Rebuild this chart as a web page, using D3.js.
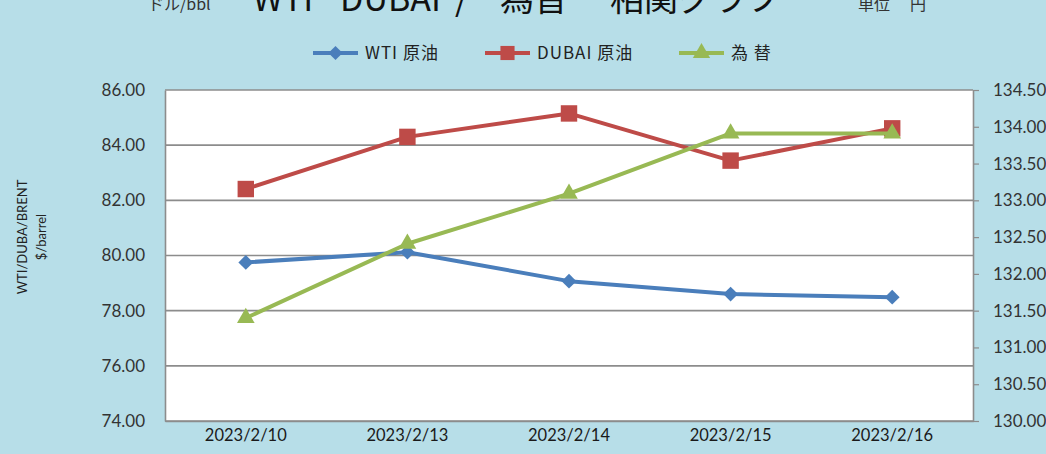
<!DOCTYPE html>
<html><head><meta charset="utf-8">
<script src="https://cdn.jsdelivr.net/npm/d3@7"></script>
<style>
html,body{margin:0;padding:0;background:#b7dee8;}
svg{display:block;}
</style></head>
<body><svg id="c" width="1046" height="454"></svg>
<script>
const categories = ["2023/2/10","2023/2/13","2023/2/14","2023/2/15","2023/2/16"];
const wti = [79.75, 80.12, 79.07, 78.60, 78.49];
const dubai = [82.41, 84.30, 85.15, 83.44, 84.61];
const fx = [131.40, 132.41, 133.09, 133.91, 133.91];
const leftTicks = [74,76,78,80,82,84,86];
const rightTicks = [130,130.5,131,131.5,132,132.5,133,133.5,134,134.5];
const seriesNames = ["WTI 原油","DUBAI 原油","為 替"];
const titleParts = ["WTI","DUBAI","/","為替","相関グラフ"];
const colors = ["#4a7ebb","#be4b48","#98b954"];

const svg = d3.select("#c");
const W = 1046, H = 454;
const plot = {l:165, r:973, t:90, b:421};
const jpFont = "'Noto Sans CJK JP', 'Noto Sans', sans-serif";
const numFont = "Lato, 'Noto Sans', sans-serif";

svg.append("rect").attr("width",W).attr("height",H).attr("fill","#b7dee8");

const x = d3.scaleBand().domain(categories).range([plot.l, plot.r]);
const yL = d3.scaleLinear().domain([74,86]).range([plot.b, plot.t]);
const yR = d3.scaleLinear().domain([130,134.5]).range([plot.b, plot.t]);

svg.append("rect").attr("x",plot.l).attr("y",plot.t).attr("width",plot.r-plot.l).attr("height",plot.b-plot.t).attr("fill","#fff");

// gridlines
svg.append("g").selectAll("line").data(leftTicks).join("line")
  .attr("x1",plot.l).attr("x2",plot.r)
  .attr("y1",d=>yL(d)).attr("y2",d=>yL(d))
  .attr("stroke","#8c8c8c").attr("stroke-width",1.6);

// left axis
const gL = svg.append("g").attr("transform",`translate(${plot.l},0)`)
  .call(d3.axisLeft(yL).tickValues(leftTicks).tickFormat(d3.format(".2f")).tickSize(0).tickPadding(20));
gL.select(".domain").attr("stroke","#8c8c8c").attr("stroke-width",1.6);
gL.selectAll("text").attr("font-family",numFont).attr("font-size",17).attr("fill","#333");

// right axis
const gR = svg.append("g").attr("transform",`translate(${plot.r},0)`)
  .call(d3.axisRight(yR).tickValues(rightTicks).tickFormat(d3.format(".2f")).tickSizeOuter(0).tickSizeInner(6).tickPadding(14));
gR.select(".domain").attr("stroke","#8c8c8c").attr("stroke-width",1.6);
gR.selectAll("line").attr("stroke","#8c8c8c").attr("stroke-width",1.2);
gR.selectAll("text").attr("font-family",numFont).attr("font-size",17).attr("fill","#333");

// bottom axis
const gB = svg.append("g").attr("transform",`translate(0,${plot.b})`)
  .call(d3.axisBottom(x).tickSize(0).tickPadding(8));
gB.select(".domain").attr("stroke","#8c8c8c").attr("stroke-width",1.6);
gB.selectAll("text").attr("font-family",numFont).attr("font-size",16.5).attr("fill","#1a1a1a");

const cx = d => x(d) + x.bandwidth()/2;
const diamond = {type:d3.symbolSquare, size:110, rot:45};
const square = {type:d3.symbolSquare, size:270, rot:0};
const triangle = {type:d3.symbolTriangle, size:135, rot:0};

function drawSeries(vals, scale, color, shape){
  const data = categories.map((c,i)=>({c, v:vals[i]}));
  svg.append("path").datum(data)
    .attr("d", d3.line().x(d=>cx(d.c)).y(d=>scale(d.v)))
    .attr("fill","none").attr("stroke",color).attr("stroke-width",4).attr("stroke-linejoin","round");
  svg.append("g").selectAll("path").data(data).join("path")
    .attr("transform",d=>`translate(${cx(d.c)},${scale(d.v)}) rotate(${shape.rot})`)
    .attr("d", d3.symbol().type(shape.type).size(shape.size))
    .attr("fill",color);
}
drawSeries(wti, yL, colors[0], diamond);
drawSeries(dubai, yL, colors[1], square);
drawSeries(fx, yR, colors[2], triangle);

// legend
const legendX = [313, 485, 679];
const shapes = [{type:d3.symbolSquare,size:100,rot:45},{type:d3.symbolSquare,size:200,rot:0},{type:d3.symbolTriangle,size:130,rot:0}];
const lg = svg.append("g");
seriesNames.forEach((n,i)=>{
  const g = lg.append("g").attr("transform",`translate(${legendX[i]},53)`);
  g.append("line").attr("x1",0).attr("x2",45).attr("stroke",colors[i]).attr("stroke-width",4);
  g.append("path").attr("transform",`translate(22.5,0) rotate(${shapes[i].rot})`).attr("d",d3.symbol().type(shapes[i].type).size(shapes[i].size)).attr("fill",colors[i]);
  g.append("text").attr("x",52).attr("y",6).text(n).attr("font-family",jpFont).attr("font-size",17).attr("letter-spacing",1).attr("fill","#222");
});

// title & units
const titleX = [253, 340, 455, 500, 610];
const tt = svg.append("text").attr("y",11).attr("font-family",jpFont).attr("font-size",34).attr("fill","#111");
titleParts.forEach((p,i)=> tt.append("tspan").attr("x",titleX[i]).text(p));
svg.append("text").attr("x",148).attr("y",10).attr("font-family",jpFont).attr("font-size",16).attr("fill","#333").text("ドル/bbl");
const ut = svg.append("text").attr("y",10).attr("font-family",jpFont).attr("font-size",16).attr("fill","#333");
ut.append("tspan").attr("x",858).text("単位");
ut.append("tspan").attr("x",910).text("円");

// y axis title
const yt = svg.append("text").attr("transform","translate(32,237) rotate(-90)")
  .attr("text-anchor","middle").attr("font-family",numFont).attr("font-size",13).attr("fill","#222");
yt.append("tspan").attr("x",0).attr("dy",-5).text("WTI/DUBA/BRENT");
yt.append("tspan").attr("x",0).attr("dy",19).text("$/barrel");
</script></body></html>
